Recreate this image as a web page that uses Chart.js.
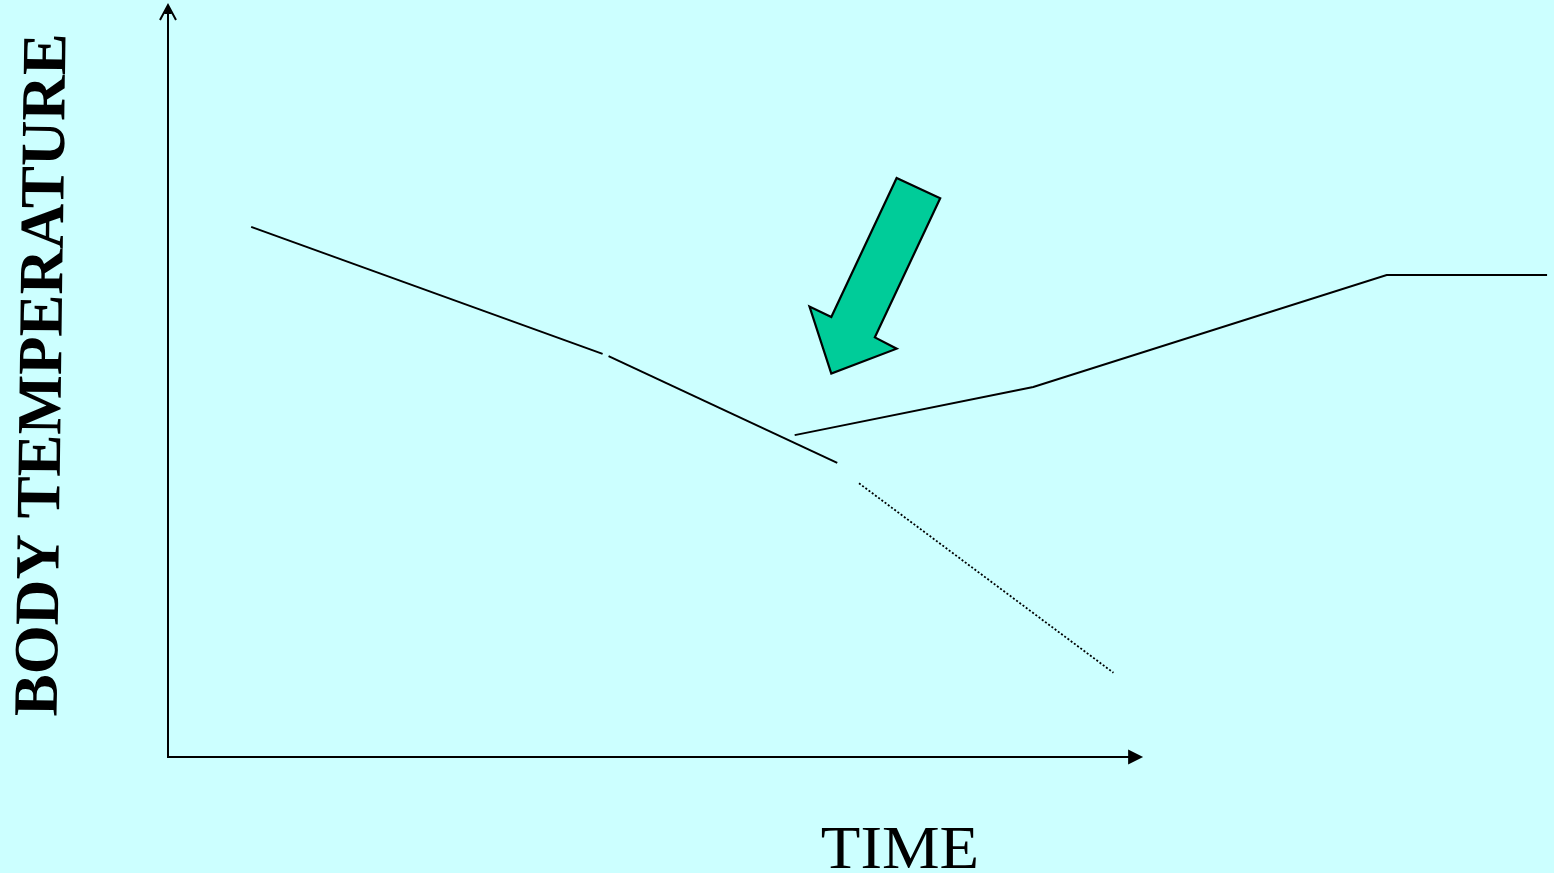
<!DOCTYPE html>
<html>
<head>
<meta charset="utf-8">
<script src="https://cdn.jsdelivr.net/npm/chart.js@4/dist/chart.umd.min.js"></script>
<style>
  html, body { margin: 0; padding: 0; background: #CCFFFF; }
  #wrap { width: 1554px; height: 873px; position: relative; }
</style>
</head>
<body>
<div id="wrap"><canvas id="c"></canvas></div>
<script>
// Data (time units on x, temperature units on y)
const timeCooling1 = [0.84, 4.39];
const tempCooling1 = [7.05, 5.36];
const timeCooling2 = [4.45, 6.76];
const tempCooling2 = [5.33, 3.91];
const timeProjected = [6.98, 9.55];
const tempProjected = [3.64, 1.12];
const timeRecovery = [6.33, 8.74, 12.31, 13.93];
const tempRecovery = [4.28, 4.92, 6.41, 6.41];
// Green arrow outline (data units)
const arrowTime = [7.36, 7.80, 7.14, 7.36, 6.70, 6.48, 6.70];
const arrowTemp = [7.70, 7.43, 5.58, 5.43, 5.10, 5.99, 5.85];
const xAxisEnd = 9.85;
const yAxisEnd = 10;
const xLabel = 'TIME';
const yLabel = 'BODY TEMPERATURE';

const pts = (xs, ys) => xs.map((x, i) => ({ x: x, y: ys[i] }));

const overlay = {
  id: 'overlay',
  beforeDatasetsDraw(chart) {
    const ctx = chart.ctx;
    const xs = chart.scales.x, ys = chart.scales.y;
    ctx.save();
    // axes
    const x0 = xs.getPixelForValue(0), y0 = ys.getPixelForValue(0);
    const xe = xs.getPixelForValue(xAxisEnd), ye = ys.getPixelForValue(yAxisEnd);
    ctx.strokeStyle = '#000';
    ctx.lineWidth = 2;
    ctx.beginPath();
    ctx.moveTo(x0, ye + 1);
    ctx.lineTo(x0, y0);
    ctx.lineTo(xe - 10, y0);
    ctx.stroke();
    // y arrow head (open)
    ctx.beginPath();
    ctx.moveTo(x0 - 8, ye + 15);
    ctx.lineTo(x0, ye);
    ctx.lineTo(x0 + 8, ye + 15);
    ctx.stroke();
    ctx.beginPath();
    ctx.moveTo(x0 - 4, ye + 9);
    ctx.lineTo(x0, ye);
    ctx.lineTo(x0 + 4, ye + 9);
    ctx.fillStyle = '#000';
    ctx.fill();
    // x arrow head (filled)
    ctx.beginPath();
    ctx.moveTo(xe, y0);
    ctx.lineTo(xe - 15, y0 - 7.5);
    ctx.lineTo(xe - 15, y0 + 7.5);
    ctx.closePath();
    ctx.fill();
    // green arrow
    ctx.beginPath();
    arrowTime.forEach((t, i) => {
      const px = xs.getPixelForValue(t), py = ys.getPixelForValue(arrowTemp[i]);
      if (i === 0) ctx.moveTo(px, py); else ctx.lineTo(px, py);
    });
    ctx.closePath();
    ctx.fillStyle = '#00CC99';
    ctx.fill();
    ctx.lineWidth = 2.2;
    ctx.lineJoin = 'miter';
    ctx.strokeStyle = '#000';
    ctx.stroke();
    // labels
    ctx.fillStyle = '#000';
    ctx.textAlign = 'center';
    ctx.textBaseline = 'alphabetic';
    ctx.save();
    ctx.translate(900, 868);
    ctx.scale(1.045, 1);
    ctx.font = '62px "Liberation Serif", "Times New Roman", serif';
    ctx.fillText(xLabel, 0, 0);
    ctx.restore();
    ctx.save();
    ctx.translate(61, 375);
    ctx.rotate(-89.25 * Math.PI / 180);
    ctx.font = 'bold 63px "Liberation Serif", "Times New Roman", serif';
    ctx.fillText(yLabel, 0, 0);
    ctx.restore();
    ctx.restore();
  }
};

const solid = { borderColor: '#000', borderWidth: 2, pointRadius: 0, showLine: true, fill: false, tension: 0 };

new Chart(document.getElementById('c'), {
  type: 'scatter',
  data: {
    datasets: [
      Object.assign({ label: 'Cooling 1', data: pts(timeCooling1, tempCooling1) }, solid),
      Object.assign({ label: 'Cooling 2', data: pts(timeCooling2, tempCooling2) }, solid),
      Object.assign({ label: 'Projected', data: pts(timeProjected, tempProjected) }, solid, { borderWidth: 1.8, borderDash: [2, 2] }),
      Object.assign({ label: 'Recovery', data: pts(timeRecovery, tempRecovery) }, solid)
    ]
  },
  options: {
    responsive: true,
    maintainAspectRatio: false,
    animation: false,
    layout: { padding: { left: 168, top: 5, right: 0, bottom: 116 } },
    plugins: { legend: { display: false }, tooltip: { enabled: false } },
    scales: {
      x: { type: 'linear', display: false, min: 0, max: 14 },
      y: { type: 'linear', display: false, min: 0, max: 10 }
    }
  },
  plugins: [overlay]
});
</script>
</body>
</html>
